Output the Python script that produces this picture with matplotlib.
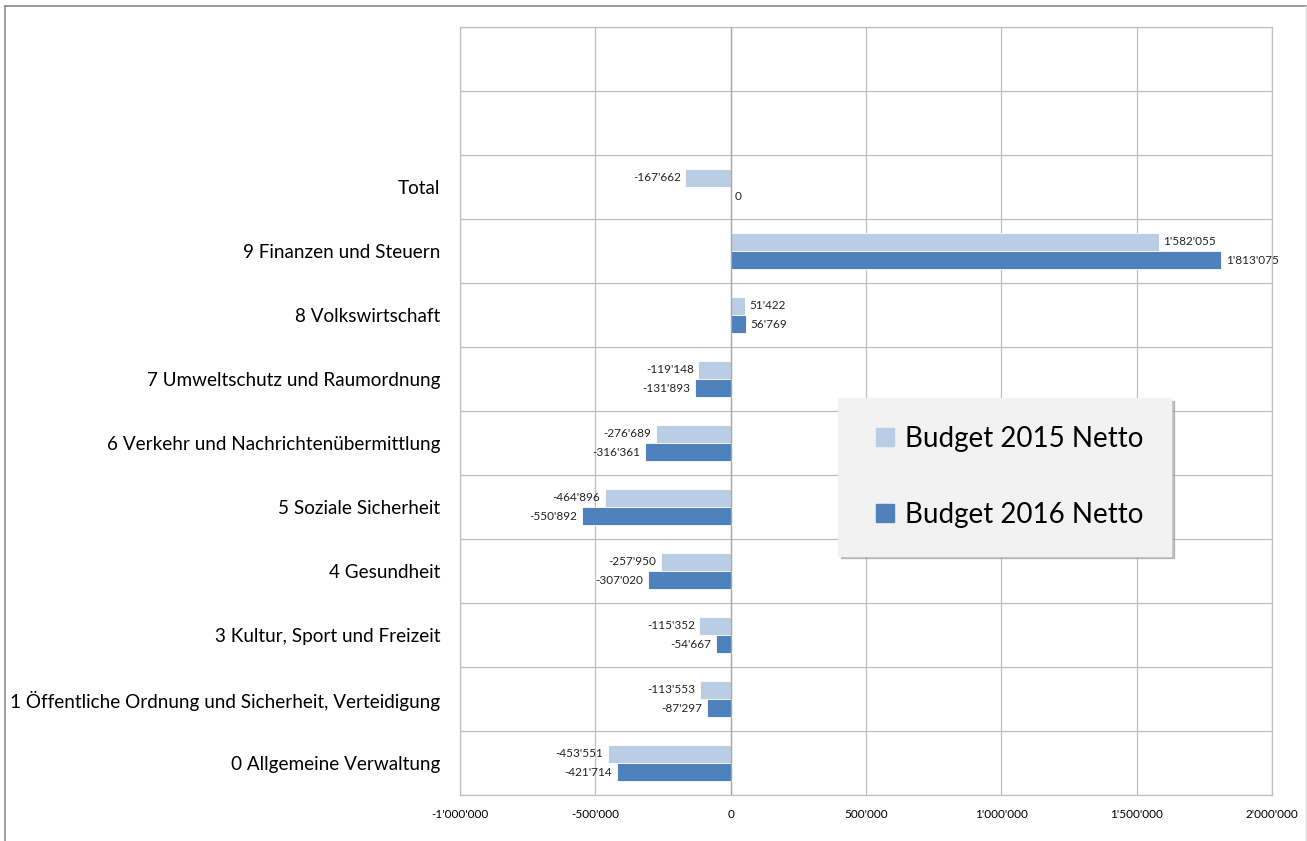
import matplotlib.pyplot as plt
import matplotlib.ticker as mticker
from matplotlib.lines import Line2D
import numpy as np

# categories bottom -> top (two empty rows at the top)
categories = [
    "0 Allgemeine Verwaltung",
    "1 Öffentliche Ordnung und Sicherheit, Verteidigung",
    "3 Kultur, Sport und Freizeit",
    "4 Gesundheit",
    "5 Soziale Sicherheit",
    "6 Verkehr und Nachrichtenübermittlung",
    "7 Umweltschutz und Raumordnung",
    "8 Volkswirtschaft",
    "9 Finanzen und Steuern",
    "Total",
    "",
    "",
]
budget_2015 = [-453551, -113553, -115352, -257950, -464896, -276689, -119148, 51422, 1582055, -167662, None, None]
budget_2016 = [-421714, -87297, -54667, -307020, -550892, -316361, -131893, 56769, 1813075, 0, None, None]
series_names = ["Budget 2015 Netto", "Budget 2016 Netto"]
x_ticks = [-1000000, -500000, 0, 500000, 1000000, 1500000, 2000000]

C_LIGHT = "#B9CDE5"
C_DARK = "#4F81BD"

plt.rcParams["font.family"] = ["Lato", "DejaVu Sans"]


def swiss(v):
    s = f"{abs(int(v)):,}".replace(",", "'")
    return ("-" if v < 0 else "") + s


fig = plt.figure(figsize=(13.07, 8.41), dpi=100)
ax = fig.add_axes([460 / 1307, 1 - 795 / 841, (1272 - 460) / 1307, (795 - 27) / 841])

y = np.arange(len(categories))
h = 0.275
off = 0.145
for vals, dy, col in [(budget_2015, off, C_LIGHT), (budget_2016, -off, C_DARK)]:
    for yi, v in zip(y, vals):
        if v is None:
            continue
        ax.barh(yi + dy, v, height=h, color=col, edgecolor="white", linewidth=0.6, zorder=3)
        if v < 0:
            ax.text(v - 16000, yi + dy, swiss(v), ha="right", va="center", fontsize=8.5, color="#222222")
        else:
            ax.text(v + 16000, yi + dy, swiss(v), ha="left", va="center", fontsize=8.5, color="#222222")

ax.set_xlim(-1000000, 2000000)
ax.set_ylim(-0.5, len(categories) - 0.5)
ax.set_xticks(x_ticks)
ax.xaxis.set_major_formatter(mticker.FuncFormatter(lambda v, p: swiss(v)))
ax.set_yticks(y)
ax.set_yticklabels(categories, fontsize=13.6)
ax.set_yticks(np.arange(-0.5, len(categories)), minor=True)
ax.tick_params(axis="y", which="both", length=0, pad=14)
ax.tick_params(axis="x", length=0, labelsize=8.5, pad=10)
ax.grid(True, axis="x", color="#BFBFBF", linewidth=0.9, zorder=0)
ax.grid(True, axis="y", which="minor", color="#BFBFBF", linewidth=0.9, zorder=0)
ax.axvline(0, color="#A6A6A6", linewidth=0.9, zorder=4)
for s in ax.spines.values():
    s.set_color("#BFBFBF")
    s.set_linewidth(0.9)

handles = [Line2D([], [], marker="s", linestyle="none", markersize=12.5,
                  markerfacecolor=c, markeredgecolor=c) for c in (C_LIGHT, C_DARK)]
leg = ax.legend(handles, series_names, loc="upper left",
                bbox_to_anchor=((838 - 460) / 812, (795 - 398) / 768),
                fontsize=20, frameon=True, fancybox=False,
                shadow={"color": "#9A9A9A", "alpha": 0.6},
                facecolor="#F2F2F2", edgecolor="#F2F2F2", framealpha=1,
                labelspacing=1.8, handletextpad=0.0, borderpad=1.0,
                borderaxespad=0, handlelength=1.4)
leg.set_zorder(10)

# outer frame of the chart
fig.add_artist(Line2D([5 / 1307, 5 / 1307], [0, 1 - 6 / 841], transform=fig.transFigure, color="#8C8C8C", lw=1.2))
fig.add_artist(Line2D([5 / 1307, 1306 / 1307], [1 - 6 / 841, 1 - 6 / 841], transform=fig.transFigure, color="#8C8C8C", lw=1.2))
fig.add_artist(Line2D([1305.5 / 1307, 1305.5 / 1307], [0, 1 - 6 / 841], transform=fig.transFigure, color="#D9D9D9", lw=1))

fig.savefig("out.png", dpi=100)
